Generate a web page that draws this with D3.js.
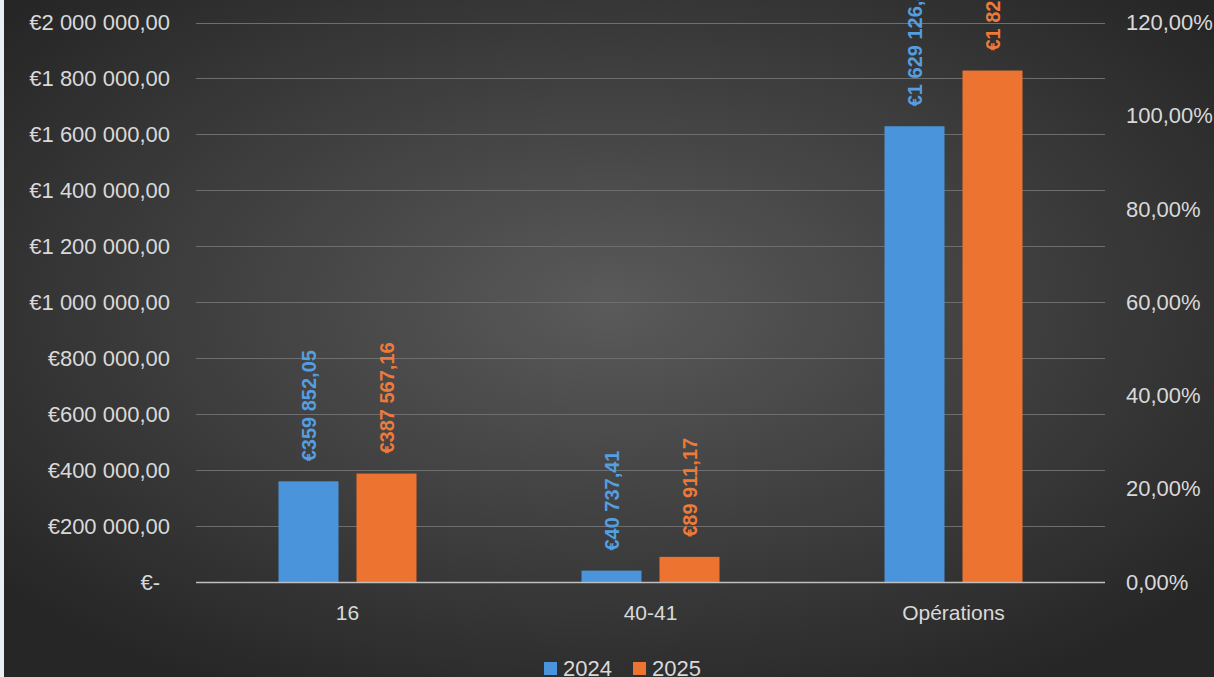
<!DOCTYPE html>
<html><head><meta charset="utf-8">
<script src="https://cdn.jsdelivr.net/npm/d3@7/dist/d3.min.js"></script>
<style>
html,body{margin:0;padding:0;background:#e9f0f4;overflow:hidden}
svg{display:block}
text{font-family:"Liberation Sans",Arial,sans-serif}
</style></head><body>
<svg id="chart" width="1214" height="677"></svg>
<script>
const categories = ["16", "40-41", "Opérations"];
const seriesNames = ["2024", "2025"];
const values2024 = [359852.05, 40737.41, 1629126.48];
const values2025 = [387567.16, 89911.17, 1828215.64];
const leftTicks = [0, 200000, 400000, 600000, 800000, 1000000, 1200000, 1400000, 1600000, 1800000, 2000000];
const rightTicks = [0, 0.2, 0.4, 0.6, 0.8, 1.0, 1.2];
const colors = ["#4a94dc", "#ed7331"];
const labelColors = ["#559ee0", "#ee7a3a"];

const svg = d3.select("#chart");
const W = 1214, H = 677;
const plot = {left: 196, right: 1105, top: 22.5, bottom: 582};

const defs = svg.append("defs");
const rg = defs.append("radialGradient").attr("id","bg")
  .attr("cx","50%").attr("cy","45%").attr("r","65%");
rg.append("stop").attr("offset","0%").attr("stop-color","#5a5a5a");
rg.append("stop").attr("offset","100%").attr("stop-color","#262626");
svg.append("rect").attr("x",4).attr("y",0).attr("width",W-4).attr("height",H).attr("fill","url(#bg)");

const y = d3.scaleLinear().domain([0, 2000000]).range([plot.bottom, plot.top]);
const yR = d3.scaleLinear().domain([0, 1.2]).range([plot.bottom, plot.top]);
const x = d3.scaleBand().domain(categories).range([plot.left, plot.right]).padding(0);
const groupW = 138;
const xs = d3.scaleBand().domain(seriesNames).range([0, groupW]).paddingInner(18/78).paddingOuter(0);

// gridlines
svg.append("g").selectAll("line").data(leftTicks.filter(d=>d>0)).join("line")
  .attr("x1", plot.left).attr("x2", plot.right)
  .attr("y1", d=>Math.round(y(d))+0.5).attr("y2", d=>Math.round(y(d))+0.5)
  .attr("stroke","#6e6e6e").attr("stroke-width",1);

// left axis labels
const fmtEuro = d => {
  if (d === 0) return "€-";
  const s = d3.format(",.2f")(d).replace(/,/g," ").replace(".",",");
  return "€" + s;
};
svg.append("g").selectAll("text").data(leftTicks).join("text")
  .attr("x", d => d === 0 ? 160 : 170)
  .attr("y", d => y(d)).attr("dy","0.35em")
  .attr("text-anchor","end").attr("fill","#d9d9d9").attr("font-size", 22)
  .text(fmtEuro);

// right axis labels
const fmtPct = d => d3.format(".2f")(d*100).replace(".",",") + "%";
svg.append("g").selectAll("text").data(rightTicks).join("text")
  .attr("x", 1126).attr("y", d => yR(d)).attr("dy","0.35em")
  .attr("text-anchor","start").attr("fill","#d9d9d9").attr("font-size", 22)
  .text(fmtPct);

// bars
const data = categories.map((c,i)=>({cat:c, vals:[values2024[i], values2025[i]]}));
const groups = svg.append("g").selectAll("g").data(data).join("g")
  .attr("transform", d => `translate(${x(d.cat) + x.bandwidth()/2 - groupW/2},0)`);
groups.selectAll("rect").data(d => d.vals.map((v,j)=>({s:seriesNames[j], v, j}))).join("rect")
  .attr("x", d => xs(d.s)).attr("width", xs.bandwidth())
  .attr("y", d => y(d.v)).attr("height", d => y(0) - y(d.v))
  .attr("fill", d => colors[d.j]);

// data labels
const fmtVal = v => "€" + d3.format(",.2f")(v).replace(/,/g," ").replace(".",",");
groups.selectAll("text").data(d => d.vals.map((v,j)=>({s:seriesNames[j], v, j}))).join("text")
  .attr("transform", d => `translate(${xs(d.s) + xs.bandwidth()/2},${y(d.v) - 20}) rotate(-90)`)
  .attr("dy","0.35em").attr("text-anchor","start")
  .attr("fill", d => labelColors[d.j]).attr("font-size", 20).attr("font-weight","bold")
  .text(d => fmtVal(d.v));

// zero axis line
svg.append("line").attr("x1", plot.left).attr("x2", plot.right)
  .attr("y1", Math.round(y(0))+0.5).attr("y2", Math.round(y(0))+0.5)
  .attr("stroke","#bfbfbf").attr("stroke-width",1.5);

// category labels
svg.append("g").selectAll("text").data(categories).join("text")
  .attr("x", d => x(d) + x.bandwidth()/2).attr("y", 620)
  .attr("text-anchor","middle").attr("fill","#d9d9d9").attr("font-size", 21)
  .text(d => d);

// legend
const legend = svg.append("g");
const legX = [544, 633];
seriesNames.forEach((s,i)=>{
  legend.append("rect").attr("x", legX[i]).attr("y", 662).attr("width", 13).attr("height", 13).attr("fill", colors[i]);
  legend.append("text").attr("x", legX[i] + 19).attr("y", 676).attr("fill","#d9d9d9")
    .attr("font-size", 22).text(s);
});
</script>
</body></html>
